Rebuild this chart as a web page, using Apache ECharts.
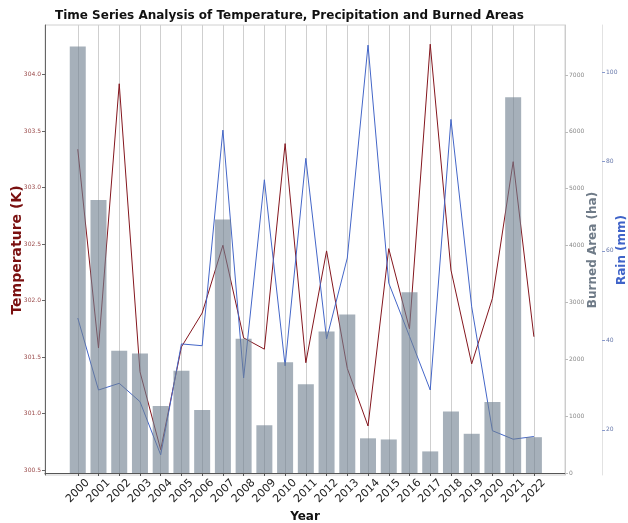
<!DOCTYPE html>
<html>
<head>
<meta charset="utf-8">
<script src="https://cdn.jsdelivr.net/npm/echarts@6/dist/echarts.min.js"></script>
<style>
html,body{margin:0;padding:0;background:#fff;}
#chart{width:628px;height:523px;}
</style>
</head>
<body>
<div id="chart"></div>
<script>
// years on the x axis
const years = [2000,2001,2002,2003,2004,2005,2006,2007,2008,2009,2010,2011,2012,2013,2014,2015,2016,2017,2018,2019,2020,2021,2022]
// burned area (ha)
const burnedArea = [7500,4800,2150,2100,1180,1800,1110,4460,2360,840,1950,1560,2490,2790,610,590,3180,380,1080,690,1250,6610,630]
// mean temperature (K)
const temperature = [303.34,301.58,303.92,301.37,300.68,301.59,301.89,302.49,301.67,301.57,303.39,301.45,302.44,301.40,300.89,302.46,301.75,304.27,302.27,301.44,302.02,303.23,301.68]
// rain (mm)
const rain = [45.0,28.9,30.4,26.3,14.4,39.2,38.8,87.0,31.6,75.9,34.3,80.7,40.3,58.4,106.0,52.8,40.9,28.9,89.4,47.5,19.8,17.9,18.5]

// tick labels
const tempTicks = [300.5,301.0,301.5,302.0,302.5,303.0,303.5,304.0]
const areaTicks = [0,1000,2000,3000,4000,5000,6000,7000]
const rainTicks = [20,40,60,80,100]

const chart = echarts.init(document.getElementById('chart'))

const font = 'DejaVu Sans'

const option = {
  animation: false,
  textStyle: { fontFamily: font },
  title: {
    text: 'Time Series Analysis of Temperature, Precipitation and Burned Areas',
    left: 55,
    top: 10,
    padding: 0,
    textStyle: { fontFamily: font, fontSize: 12, fontWeight: 'bold', color: '#111' }
  },
  grid: {
    left: 45, right: 63, top: 25, bottom: 48,
    outerBoundsMode: 'none',
    containLabel: false,
    show: true, borderColor: '#d0d0d0', borderWidth: 1
  },
  xAxis: {
    type: 'value',
    min: 1998.42,
    max: 2023.5,
    name: 'Year',
    nameLocation: 'middle',
    nameGap: 36,
    nameMoveOverlap: false,
    nameTextStyle: { fontFamily: font, fontSize: 12, fontWeight: 'bold', color: '#111' },
    axisLine: { show: true, lineStyle: { color: '#555', width: 1 } },
    axisTick: { show: true, length: 3, customValues: years, lineStyle: { color: '#555' } },
    axisLabel: {
      customValues: years,
      rotate: 45,
      align: 'center',
      verticalAlign: 'middle',
      margin: 16,
      fontSize: 11,
      color: '#222',
      formatter: v => String(v)
    },
    splitLine: { show: true, lineStyle: { color: '#cfcfcf', width: 1 } }
  },
  yAxis: [
    {
      type: 'value',
      position: 'left',
      min: 300.456,
      max: 304.44,
      name: 'Temperature (K)',
      nameLocation: 'middle',
      nameGap: 21,
      nameMoveOverlap: false,
      nameTextStyle: { fontFamily: font, fontSize: 14, fontWeight: 'bold', color: '#7a1010' },
      axisLine: { show: true, lineStyle: { color: '#666', width: 1 } },
      axisTick: { show: true, length: 3, customValues: tempTicks, lineStyle: { color: '#666' } },
      axisLabel: { customValues: tempTicks, fontSize: 6, color: '#9a4a4a', margin: 4, formatter: v => v.toFixed(1) },
      splitLine: { show: false }
    },
    {
      type: 'value',
      position: 'right',
      min: -35,
      max: 7880,
      name: 'Burned Area (ha)',
      nameLocation: 'middle',
      nameGap: 22,
      nameMoveOverlap: false,
      nameTextStyle: { fontFamily: font, fontSize: 12, fontWeight: 'bold', color: '#6f7b88' },
      axisLine: { show: true, lineStyle: { color: '#cccccc', width: 1 } },
      axisTick: { show: true, length: 3, customValues: areaTicks, lineStyle: { color: '#bbb' } },
      axisLabel: { customValues: areaTicks, fontSize: 6, color: '#888', margin: 4, formatter: v => String(v) },
      splitLine: { show: false }
    },
    {
      type: 'value',
      position: 'right',
      offset: 37,
      min: 9.9,
      max: 110.5,
      name: 'Rain (mm)',
      nameLocation: 'middle',
      nameGap: 14,
      nameMoveOverlap: false,
      nameTextStyle: { fontFamily: font, fontSize: 12, fontWeight: 'bold', color: '#3f63c8' },
      axisLine: { show: true, lineStyle: { color: '#e2e2e2', width: 1 } },
      axisTick: { show: true, length: 3, customValues: rainTicks, lineStyle: { color: '#8899cc' } },
      axisLabel: { customValues: rainTicks, fontSize: 6, color: '#6677aa', margin: 4, formatter: v => String(v) },
      splitLine: { show: false }
    }
  ],
  series: [
    {
      name: 'Temperature',
      type: 'line',
      yAxisIndex: 0,
      z: 2,
      symbol: 'none',
      lineStyle: { color: '#84161e', width: 1 },
      data: years.map((y, i) => [y, temperature[i]])
    },
    {
      name: 'Rain',
      type: 'line',
      yAxisIndex: 2,
      z: 2,
      symbol: 'none',
      lineStyle: { color: '#4466c8', width: 1 },
      data: years.map((y, i) => [y, rain[i]])
    },
    {
      name: 'Burned Area',
      type: 'bar',
      yAxisIndex: 1,
      z: 3,
      barWidth: 16,
      itemStyle: { color: 'rgba(112,128,144,0.62)' },
      data: years.map((y, i) => [y, burnedArea[i]])
    }
  ]
}

chart.setOption(option)
</script>
</body>
</html>
